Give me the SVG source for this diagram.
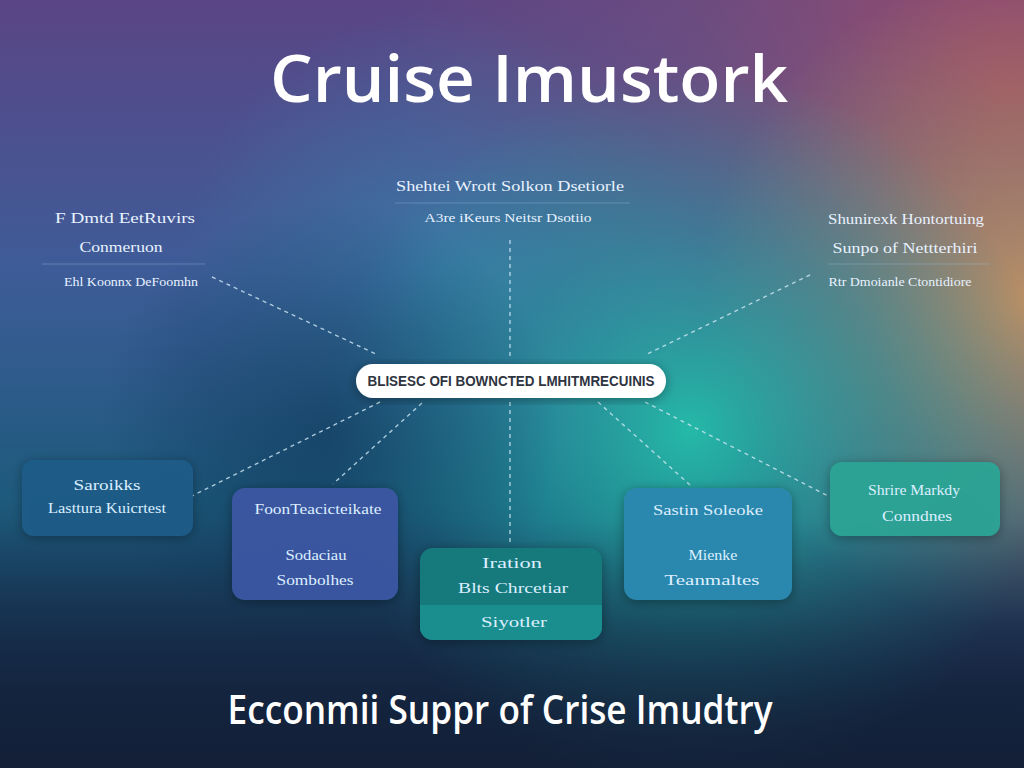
<svg xmlns="http://www.w3.org/2000/svg" width="1024" height="768" viewBox="0 0 1024 768">
  <defs>
    <linearGradient id="bg" x1="0" y1="0" x2="0" y2="1">
      <stop offset="0" stop-color="#5a4585"/>
      <stop offset="0.35" stop-color="#3e5c98"/>
      <stop offset="0.65" stop-color="#1d5a7c"/>
      <stop offset="0.85" stop-color="#173252"/>
      <stop offset="1" stop-color="#131f38"/>
    </linearGradient>
    <radialGradient id="gRed" cx="1010" cy="90" r="620" gradientUnits="userSpaceOnUse">
      <stop offset="0" stop-color="#b04a5e" stop-opacity="0.85"/>
      <stop offset="0.55" stop-color="#8a5578" stop-opacity="0.35"/>
      <stop offset="1" stop-color="#8a5578" stop-opacity="0"/>
    </radialGradient>
    <radialGradient id="gOrange" cx="1030" cy="300" r="330" gradientUnits="userSpaceOnUse">
      <stop offset="0" stop-color="#c89a60" stop-opacity="0.85"/>
      <stop offset="0.6" stop-color="#a09868" stop-opacity="0.35"/>
      <stop offset="1" stop-color="#a09868" stop-opacity="0"/>
    </radialGradient>
    <radialGradient id="gTeal" cx="690" cy="430" r="360" gradientUnits="userSpaceOnUse">
      <stop offset="0" stop-color="#22c4ac" stop-opacity="0.9"/>
      <stop offset="0.55" stop-color="#20a0a0" stop-opacity="0.45"/>
      <stop offset="1" stop-color="#20a0a0" stop-opacity="0"/>
    </radialGradient>
    <radialGradient id="gDark" cx="330" cy="430" r="230" gradientUnits="userSpaceOnUse">
      <stop offset="0" stop-color="#0c3456" stop-opacity="0.6"/>
      <stop offset="1" stop-color="#0c3456" stop-opacity="0"/>
    </radialGradient>
    <radialGradient id="gBlue" cx="440" cy="270" r="260" gradientUnits="userSpaceOnUse">
      <stop offset="0" stop-color="#3a8ab0" stop-opacity="0.55"/>
      <stop offset="1" stop-color="#3a8ab0" stop-opacity="0"/>
    </radialGradient>
    <linearGradient id="gBottom" x1="0" y1="0" x2="0" y2="1">
      <stop offset="0" stop-color="#132038" stop-opacity="0"/>
      <stop offset="1" stop-color="#132038" stop-opacity="0.85"/>
    </linearGradient>
    <filter id="soft" x="-20%" y="-20%" width="140%" height="140%">
      <feGaussianBlur in="SourceAlpha" stdDeviation="6"/>
      <feOffset dy="2"/>
      <feComponentTransfer><feFuncA type="linear" slope="0.35"/></feComponentTransfer>
      <feMerge><feMergeNode/><feMergeNode in="SourceGraphic"/></feMerge>
    </filter>
    <style>
      .lbl { font-family: "Liberation Serif", "DejaVu Serif", serif; fill: #e8f2ff; text-anchor: middle; }
      .nt { font-family: "Liberation Serif", "DejaVu Serif", serif; font-size: 15px; fill: #dcefff; text-anchor: middle; }
      .sep { stroke: #9cc4e0; stroke-opacity: 0.35; stroke-width: 1; }
      .conn line { stroke: #cfe8f4; stroke-opacity: 0.8; stroke-width: 1.4; stroke-dasharray: 4 4; fill: none; }
      .title { font-family: "Open Sans", "Noto Sans", sans-serif; font-weight: 600; fill: #ffffff; text-anchor: middle; }
    </style>
  </defs>

  <rect width="1024" height="768" fill="url(#bg)"/>
  <rect width="1024" height="768" fill="url(#gRed)"/>
  <rect width="1024" height="768" fill="url(#gOrange)"/>
  <rect width="1024" height="768" fill="url(#gBlue)"/>
  <rect width="1024" height="768" fill="url(#gTeal)"/>
  <rect width="1024" height="768" fill="url(#gDark)"/>
  <rect y="520" width="1024" height="248" fill="url(#gBottom)"/>

  <text class="title" x="529" y="102" font-size="66" textLength="518" lengthAdjust="spacingAndGlyphs">Cruise Imustork</text>

  <g id="connectors" class="conn">
    <line x1="212" y1="277" x2="378" y2="355"/>
    <line x1="510" y1="240" x2="510" y2="356"/>
    <line x1="810" y1="275" x2="645" y2="355"/>
    <line x1="380" y1="402" x2="192" y2="496"/>
    <line x1="422" y1="403" x2="333" y2="484"/>
    <line x1="510" y1="402" x2="510" y2="545"/>
    <line x1="598" y1="402" x2="690" y2="485"/>
    <line x1="645" y1="402" x2="830" y2="497"/>
  </g>

  <g id="label-top">
    <text class="lbl" x="510" y="191" font-size="14" textLength="228" lengthAdjust="spacingAndGlyphs">Shehtei Wrott Solkon Dsetiorle</text>
    <line class="sep" x1="395" y1="203" x2="630" y2="203"/>
    <text class="lbl" x="508" y="222" font-size="12" textLength="167" lengthAdjust="spacingAndGlyphs">A3re iKeurs Neitsr Dsotiio</text>
  </g>

  <g id="label-left">
    <text class="lbl" x="125" y="223" font-size="15" textLength="140" lengthAdjust="spacingAndGlyphs">F Dmtd EetRuvirs</text>
    <text class="lbl" x="121" y="252" font-size="15" textLength="83" lengthAdjust="spacingAndGlyphs">Conmeruon</text>
    <line class="sep" x1="42" y1="264" x2="205" y2="264"/>
    <text class="lbl" x="131" y="286" font-size="12" textLength="134" lengthAdjust="spacingAndGlyphs">Ehl Koonnx DeFoomhn</text>
  </g>

  <g id="label-right">
    <text class="lbl" x="906" y="224" font-size="15" textLength="156" lengthAdjust="spacingAndGlyphs">Shunirexk Hontortuing</text>
    <text class="lbl" x="905" y="253" font-size="15" textLength="145" lengthAdjust="spacingAndGlyphs">Sunpo of Nettterhiri</text>
    <line class="sep" x1="828" y1="264" x2="990" y2="264"/>
    <text class="lbl" x="900" y="286" font-size="12" textLength="143" lengthAdjust="spacingAndGlyphs">Rtr Dmoianle Ctontidiore</text>
  </g>

  <g id="center">
    <rect x="356" y="364" width="310" height="34" rx="17" fill="#ffffff" filter="url(#soft)"/>
    <text x="511" y="386" font-family="Liberation Sans Narrow, Liberation Sans, sans-serif" font-weight="bold" font-size="14" fill="#2e3440" text-anchor="middle" textLength="287" lengthAdjust="spacingAndGlyphs">BLISESC OFI BOWNCTED LMHITMRECUINIS</text>
  </g>

  <g id="node-1">
    <rect x="22" y="460" width="171" height="76" rx="12" fill="#1c5c8a" fill-opacity="0.9" filter="url(#soft)"/>
    <text class="nt" x="107" y="490" textLength="67" lengthAdjust="spacingAndGlyphs">Saroikks</text>
    <text class="nt" x="107" y="513" textLength="118" lengthAdjust="spacingAndGlyphs">Lasttura Kuicrtest</text>
  </g>

  <g id="node-2">
    <rect x="232" y="488" width="166" height="112" rx="13" fill="#3b56a2" fill-opacity="0.95" filter="url(#soft)"/>
    <text class="nt" x="318" y="514" textLength="127" lengthAdjust="spacingAndGlyphs">FoonTeacicteikate</text>
    <text class="nt" x="316" y="560" textLength="61" lengthAdjust="spacingAndGlyphs">Sodaciau</text>
    <text class="nt" x="315" y="585" textLength="77" lengthAdjust="spacingAndGlyphs">Sombolhes</text>
  </g>

  <g id="node-3">
    <rect x="420" y="548" width="182" height="92" rx="13" fill="#147a7c" filter="url(#soft)"/>
    <path d="M420 605 H602 V627 A13 13 0 0 1 589 640 H433 A13 13 0 0 1 420 627 Z" fill="#1a8e8e"/>
    <text class="nt" x="512" y="568" textLength="60" lengthAdjust="spacingAndGlyphs">Iration</text>
    <text class="nt" x="513" y="593" textLength="110" lengthAdjust="spacingAndGlyphs">Blts Chrcetiar</text>
    <text class="nt" x="514" y="627" textLength="66" lengthAdjust="spacingAndGlyphs">Siyotler</text>
  </g>

  <g id="node-4">
    <rect x="624" y="488" width="168" height="112" rx="13" fill="#2a87ad" filter="url(#soft)"/>
    <text class="nt" x="708" y="515" textLength="110" lengthAdjust="spacingAndGlyphs">Sastin Soleoke</text>
    <text class="nt" x="713" y="560" textLength="49" lengthAdjust="spacingAndGlyphs">Mienke</text>
    <text class="nt" x="712" y="585" textLength="95" lengthAdjust="spacingAndGlyphs">Teanmaltes</text>
  </g>

  <g id="node-5">
    <rect x="830" y="462" width="170" height="74" rx="12" fill="#2aa496" fill-opacity="0.95" filter="url(#soft)"/>
    <text class="nt" x="914" y="495" textLength="92" lengthAdjust="spacingAndGlyphs">Shrire Markdy</text>
    <text class="nt" x="917" y="521" textLength="70" lengthAdjust="spacingAndGlyphs">Conndnes</text>
  </g>

  <text class="title" x="500" y="724" font-size="40" textLength="545" lengthAdjust="spacingAndGlyphs" fill="#f0f4fa">Ecconmii Suppr of Crise Imudtry</text>
</svg>
